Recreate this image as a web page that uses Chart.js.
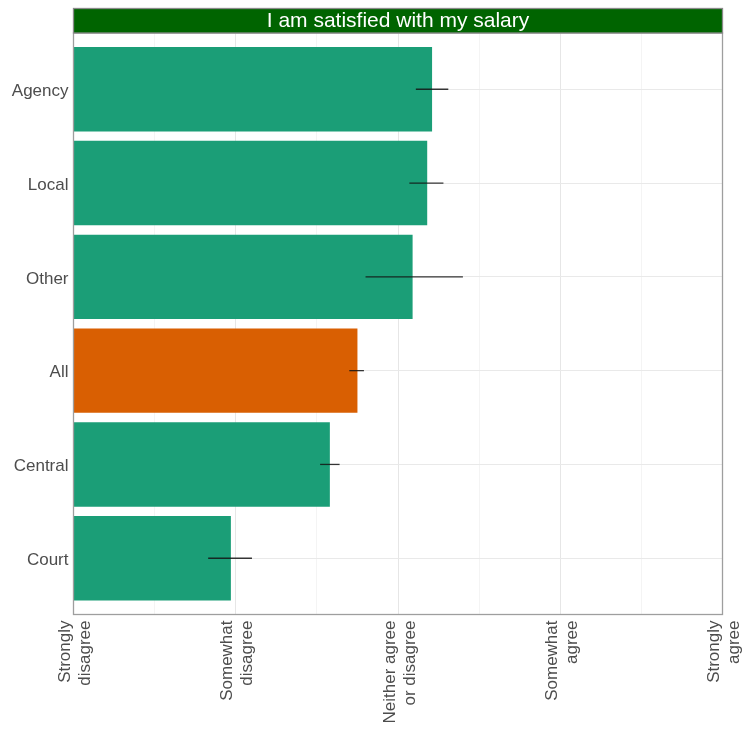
<!DOCTYPE html>
<html>
<head>
<meta charset="utf-8">
<script src="https://cdn.jsdelivr.net/npm/chart.js@4/dist/chart.umd.min.js"></script>
<style>
  html, body { margin: 0; padding: 0; background: #ffffff; }
  #wrap { width: 746px; height: 731px; }
</style>
</head>
<body>
<div id="wrap"><canvas id="c" width="746" height="731"></canvas></div>
<script>
const title = 'I am satisfied with my salary';
const categories = ['Agency', 'Local', 'Other', 'All', 'Central', 'Court'];
const means = [3.21, 3.18, 3.09, 2.75, 2.58, 1.97];
const lowerCI = [3.11, 3.07, 2.80, 2.70, 2.52, 1.83];
const upperCI = [3.31, 3.28, 3.40, 2.79, 2.64, 2.10];
const highlight = 'All';
const scaleLabels = [
  ['Strongly', 'disagree'],
  ['Somewhat', 'disagree'],
  ['Neither agree', 'or disagree'],
  ['Somewhat', 'agree'],
  ['Strongly', 'agree']
];

const FONT = "'Liberation Sans', Arial, Helvetica, sans-serif";
const TEAL = '#1B9E77';
const ORANGE = '#D95F02';

const errorBars = {
  id: 'errorBars',
  afterDatasetsDraw(chart) {
    const ctx = chart.ctx;
    const xs = chart.scales.x, ys = chart.scales.y;
    ctx.save();
    ctx.strokeStyle = 'rgba(20,20,20,0.85)';
    ctx.lineWidth = 1.3;
    categories.forEach((c, i) => {
      const y = ys.getPixelForValue(i);
      ctx.beginPath();
      ctx.moveTo(xs.getPixelForValue(lowerCI[i]), y);
      ctx.lineTo(xs.getPixelForValue(upperCI[i]), y);
      ctx.stroke();
    });
    ctx.restore();
  }
};

const panel = {
  id: 'panel',
  afterDraw(chart) {
    const ctx = chart.ctx;
    const a = chart.chartArea;
    ctx.save();
    ctx.strokeStyle = '#9E9E9E';
    ctx.lineWidth = 1.3;
    ctx.strokeRect(a.left, a.top, a.right - a.left, a.bottom - a.top);
    const sh = 24.5;
    ctx.fillStyle = '#006400';
    ctx.fillRect(a.left, a.top - sh, a.right - a.left, sh);
    ctx.strokeStyle = '#8A8A8A';
    ctx.lineWidth = 1.3;
    ctx.strokeRect(a.left, a.top - sh, a.right - a.left, sh);
    ctx.fillStyle = '#ffffff';
    ctx.font = '21px ' + FONT;
    ctx.textAlign = 'center';
    ctx.textBaseline = 'middle';
    ctx.fillText(title, (a.left + a.right) / 2, a.top - sh / 2 + 0.5);
    ctx.restore();
  }
};

new Chart(document.getElementById('c'), {
  type: 'bar',
  data: {
    datasets: [{
      data: means.map((v, i) => ({ x: v, y: i })),
      base: 1,
      backgroundColor: categories.map(c => c === highlight ? ORANGE : TEAL),
      borderWidth: 0,
      barPercentage: 0.9,
      categoryPercentage: 1.0
    }]
  },
  options: {
    indexAxis: 'y',
    responsive: false,
    animation: false,
    devicePixelRatio: 1,
    layout: { padding: { top: 33, right: 23.5, left: 0, bottom: 0 } },
    plugins: { legend: { display: false }, tooltip: { enabled: false } },
    scales: {
      x: {
        type: 'linear',
        min: 1, max: 5,
        offset: false,
        border: { display: false },
        grid: {
          drawTicks: false,
          offset: false,
          color: ctx => (Number.isInteger(ctx.tick.value) ? '#E6E6E6' : '#F1F1F1'),
          lineWidth: ctx => (Number.isInteger(ctx.tick.value) ? 1 : 0.8)
        },
        afterBuildTicks: s => {
          const t = [];
          for (let v = 1; v <= 5.001; v += 0.5) t.push({ value: Math.round(v * 2) / 2 });
          s.ticks = t;
        },
        ticks: {
          autoSkip: false,
          minRotation: 90,
          maxRotation: 90,
          padding: 6,
          labelOffset: -8,
          color: '#4D4D4D',
          font: { family: FONT, size: 17, lineHeight: 1.18 },
          callback: v => (Number.isInteger(v) ? scaleLabels[v - 1] : '')
        },
        afterFit: s => { s.height = 116.5; s.paddingLeft = 0; s.paddingRight = 0; }
      },
      y: {
        type: 'linear',
        min: -0.6, max: 5.6,
        reverse: true,
        offset: false,
        border: { display: false },
        grid: { drawTicks: false, offset: false, color: '#E9E9E9', lineWidth: 1 },
        afterBuildTicks: s => { s.ticks = categories.map((c, i) => ({ value: i })); },
        ticks: {
          autoSkip: false,
          padding: 5,
          labelOffset: 2,
          color: '#4D4D4D',
          font: { family: FONT, size: 17 },
          callback: v => categories[v]
        },
        afterFit: s => { s.width = 73.5; s.paddingTop = 0; s.paddingBottom = 0; }
      }
    }
  },
  plugins: [errorBars, panel]
});
</script>
</body>
</html>
